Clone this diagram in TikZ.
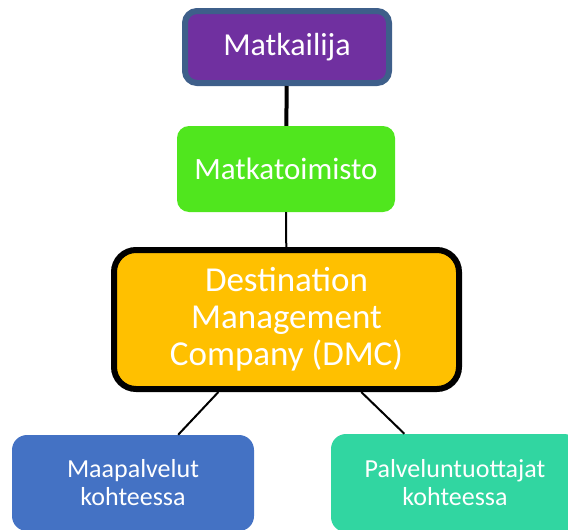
\documentclass[tikz,border=0pt]{standalone}
\usepackage{fontspec}
\setmainfont{Carlito}
\definecolor{tourist}{HTML}{7030A0}
\definecolor{touristedge}{HTML}{3E5F8A}
\definecolor{agency}{HTML}{50E61E}
\definecolor{dmc}{HTML}{FFC000}
\definecolor{ground}{HTML}{4472C4}
\definecolor{supplier}{HTML}{31D6A1}
\begin{document}
\begin{tikzpicture}[x=1pt, y=-1pt,
    box/.style={rounded corners=12pt, inner sep=0pt, text=white, align=center},
    link/.style={draw=black, line width=2pt}]
        \useasboundingbox (0,0) rectangle (568,530);
        \clip (0,0) rectangle (568,530);

        \node (matkailija) at (287,47) [box, fill=tourist, draw=touristedge, line width=6pt,
            minimum width=204pt, minimum height=72pt, font=\fontsize{32}{38}\selectfont] {Matkailija};
        \node (matkatoimisto) at (286,169) [box, fill=agency,
            minimum width=218pt, minimum height=86pt, font=\fontsize{31}{37}\selectfont] {Matkatoimisto};
        \node (dmc) at (286.5,319.5) [box, rounded corners=22pt, fill=dmc, draw=black, line width=6pt,
            minimum width=345pt, minimum height=139pt, font=\fontsize{35}{37}\selectfont]
            {Destination\\Management\\Company (DMC)};
        \node (maa) at (133,483) [box, rounded corners=15pt, fill=ground,
            minimum width=242pt, minimum height=96pt, font=\fontsize{26}{28}\selectfont]
            {Maapalvelut\\kohteessa};
        \node (tuottajat) at (455,483) [box, rounded corners=15pt, fill=supplier,
            minimum width=248pt, minimum height=98pt, font=\fontsize{26}{28}\selectfont]
            {Palveluntuottajat\\kohteessa};

        \draw [link, line width=4pt] (matkailija) -- (matkatoimisto);
        \draw [link] (matkatoimisto) -- (dmc);
        \draw [link] (dmc) -- (maa);
        \draw [link] (dmc) -- (tuottajat);
      \end{tikzpicture}
\end{document}
